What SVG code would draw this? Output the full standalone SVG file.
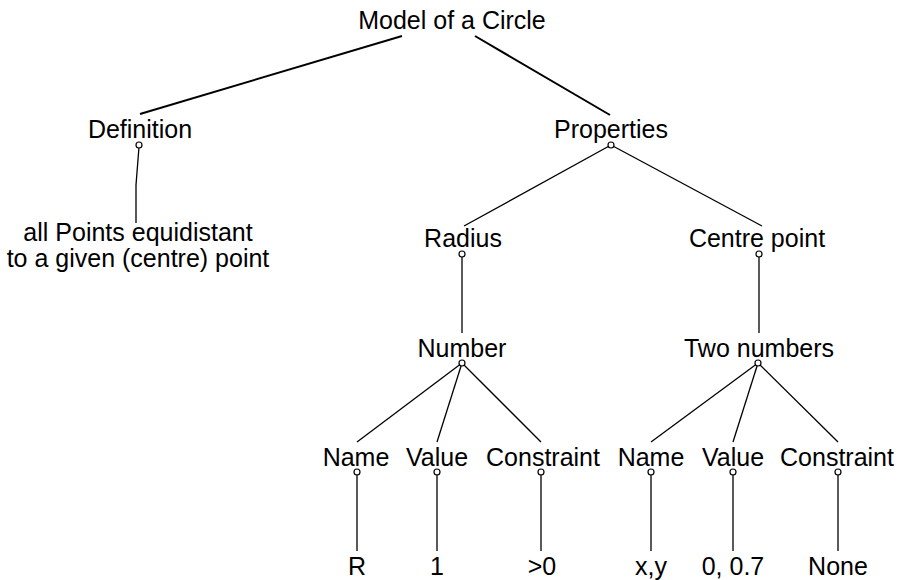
<svg xmlns="http://www.w3.org/2000/svg" width="905" height="580" viewBox="0 0 905 580">
<style>
  text { font-family: "Liberation Sans", Arial, sans-serif; font-size: 25px; fill: #000; text-anchor: middle; }
  .c { stroke: #000; stroke-width: 1.3; fill: none; }
  .t { stroke: #000; stroke-width: 2; fill: none; }
  .p { stroke: #000; stroke-width: 1.2; fill: #fff; }
</style>
<rect width="905" height="580" fill="#fff"/>
<g id="connectors">
  <line class="t" x1="402" y1="36" x2="140" y2="114"/>
  <line class="t" x1="475" y1="36" x2="610" y2="115"/>
  <polyline class="c" points="139,147 136,185 136,223"/>
  <line class="c" x1="611" y1="145" x2="464" y2="226"/>
  <line class="c" x1="611" y1="145" x2="762" y2="226"/>
  <line class="c" x1="462" y1="254" x2="462" y2="333"/>
  <line class="c" x1="759" y1="254" x2="759" y2="333"/>
  <line class="c" x1="462" y1="363" x2="357" y2="442"/>
  <line class="c" x1="462" y1="363" x2="437" y2="442"/>
  <line class="c" x1="462" y1="363" x2="541" y2="442"/>
  <line class="c" x1="758" y1="363" x2="651" y2="442"/>
  <line class="c" x1="758" y1="363" x2="733" y2="442"/>
  <line class="c" x1="758" y1="363" x2="838" y2="442"/>
  <line class="c" x1="357" y1="472" x2="357" y2="551"/>
  <line class="c" x1="437" y1="472" x2="437" y2="551"/>
  <line class="c" x1="541" y1="472" x2="541" y2="551"/>
  <line class="c" x1="651" y1="472" x2="651" y2="551"/>
  <line class="c" x1="733" y1="472" x2="733" y2="551"/>
  <line class="c" x1="838" y1="472" x2="838" y2="551"/>
</g>
<g id="model"><text x="452" y="29">Model of a Circle</text></g>
<g id="definition"><text x="140" y="138">Definition</text><circle class="p" cx="139" cy="145" r="3"/></g>
<g id="definition-text"><text x="138" y="241">all Points equidistant</text><text x="138" y="267">to a given (centre) point</text></g>
<g id="properties"><text x="611" y="138">Properties</text><circle class="p" cx="611" cy="145" r="3"/></g>
<g id="radius"><text x="463" y="247">Radius</text><circle class="p" cx="462" cy="254" r="3"/></g>
<g id="centre-point"><text x="757" y="247">Centre point</text><circle class="p" cx="759" cy="254" r="3"/></g>
<g id="number"><text x="462" y="357">Number</text><circle class="p" cx="462" cy="363" r="3"/></g>
<g id="two-numbers"><text x="759" y="357">Two numbers</text><circle class="p" cx="758" cy="363" r="3"/></g>
<g id="name1"><text x="356" y="466">Name</text><circle class="p" cx="357" cy="472" r="3"/></g>
<g id="value1"><text x="437" y="466">Value</text><circle class="p" cx="437" cy="472" r="3"/></g>
<g id="constraint1"><text x="543" y="466">Constraint</text><circle class="p" cx="541" cy="472" r="3"/></g>
<g id="name2"><text x="651" y="466">Name</text><circle class="p" cx="651" cy="472" r="3"/></g>
<g id="value2"><text x="733" y="466">Value</text><circle class="p" cx="733" cy="472" r="3"/></g>
<g id="constraint2"><text x="837" y="466">Constraint</text><circle class="p" cx="838" cy="472" r="3"/></g>
<g id="r"><text x="357" y="575">R</text></g>
<g id="one"><text x="437" y="575">1</text></g>
<g id="gt0"><text x="542" y="575">&gt;0</text></g>
<g id="xy"><text x="651" y="575">x,y</text></g>
<g id="v07"><text x="733" y="575">0, 0.7</text></g>
<g id="none"><text x="838" y="575">None</text></g>
</svg>
